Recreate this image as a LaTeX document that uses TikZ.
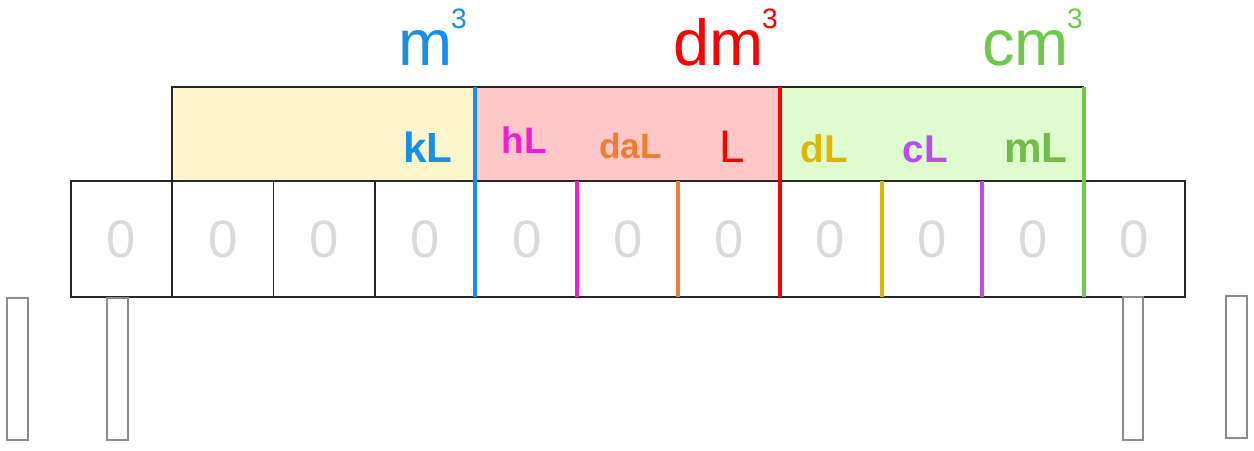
\documentclass[tikz,border=0pt]{standalone}
\usepackage{fontspec}
\setmainfont{Liberation Sans}
\usetikzlibrary{positioning}

\definecolor{mblue}{RGB}{24,142,232}
\definecolor{dmred}{RGB}{250,0,0}
\definecolor{cmgreen}{RGB}{110,200,74}
\definecolor{hlmag}{RGB}{240,30,210}
\definecolor{dalorange}{RGB}{238,125,50}
\definecolor{dlgold}{RGB}{222,182,0}
\definecolor{clpurple}{RGB}{184,78,240}
\definecolor{mlgreen}{RGB}{116,188,72}
\definecolor{kfill}{RGB}{253,245,204}
\definecolor{dfill}{RGB}{255,199,199}
\definecolor{cfill}{RGB}{222,252,206}
\definecolor{zerogray}{RGB}{218,218,218}
\definecolor{leggray}{RGB}{140,140,140}

\newcommand{\cubed}[1]{#1\kern-1pt\raisebox{20.5pt}{\fontsize{16}{16}\selectfont 3}}

\begin{document}
\begin{tikzpicture}[x=0.02cm, y=0.02cm]
\tikzstyle{every node}+=[inner sep=0pt]
\tikzstyle{cell}=[draw=black!85, line width=1pt, minimum width=2.0254cm, minimum height=2.32cm, text=zerogray, font=\fontsize{30}{30}\selectfont]
\tikzstyle{tick}=[line width=2.3pt]
\tikzstyle{leg}=[draw=leggray, line width=1.1pt]
\tikzstyle{unit}=[anchor=base east, font=\fontsize{37}{37}\selectfont]
\tikzstyle{sub}=[anchor=base east]
\useasboundingbox (0,0) rectangle (1254,-450);
% bands
\fill [kfill] (172,-87) rectangle (475,-181);
\fill [dfill] (475,-87) rectangle (780,-181);
\fill [cfill] (780,-87) rectangle (1084,-181);
\draw [black!85, line width=1pt] (172,-181) -- (172,-87) -- (1084,-87);
% cells
\foreach \i in {0,...,10}
  \node [cell] (c\i) at ({71+101.27*(\i+0.5)},-239) {0};
% dividers
\draw [tick, mblue] (475,-87) -- (475,-297);
\draw [tick, dmred] (780,-87) -- (780,-297);
\draw [tick, cmgreen] (1084,-87) -- (1084,-297);
\draw [tick, hlmag] (577,-181) -- (577,-297);
\draw [tick, dalorange] (678,-181) -- (678,-297);
\draw [tick, dlgold] (882,-181) -- (882,-297);
\draw [tick, clpurple] (982,-181) -- (982,-297);
% units
\node [unit, text=mblue] (m3) at (467,-65) {\cubed{m}};
\node [unit, text=dmred] (dm3) at (778,-65) {\cubed{dm}};
\node [unit, text=cmgreen] (cm3) at (1083,-65) {\cubed{cm}};
\node [sub, text=mblue, font=\fontsize{24}{24}\selectfont\bfseries] (kl) at (453,-162) {kL};
\node [sub, text=hlmag, font=\fontsize{21}{21}\selectfont\bfseries] (hl) at (547,-153) {hL};
\node [sub, text=dalorange, font=\fontsize{20}{20}\selectfont\bfseries] (dal) at (662,-158) {daL};
\node [sub, text=dmred, font=\fontsize{26}{26}\selectfont] (l) at (745,-162) {L};
\node [sub, text=dlgold, font=\fontsize{22}{22}\selectfont\bfseries] (dl) at (848,-162) {dL};
\node [sub, text=clpurple, font=\fontsize{22}{22}\selectfont\bfseries] (cl) at (948,-162) {cL};
\node [sub, text=mlgreen, font=\fontsize{24}{24}\selectfont\bfseries] (ml) at (1068,-162) {mL};
% legs
\draw [leg] (7,-298) rectangle (28,-440);
\draw [leg] (107,-298) rectangle (128,-440);
\draw [leg] (1123,-297) rectangle (1143,-440);
\draw [leg] (1226,-296) rectangle (1247,-438);
\end{tikzpicture}
\end{document}
